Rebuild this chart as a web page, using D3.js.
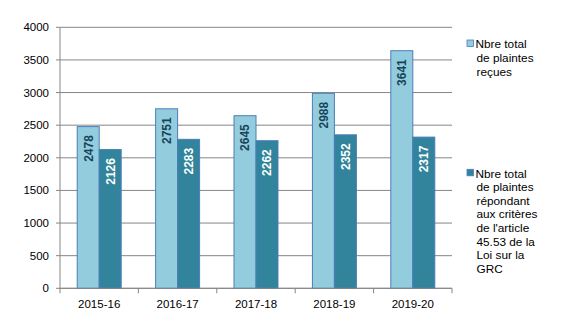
<!DOCTYPE html>
<html>
<head>
<meta charset="utf-8">
<script src="https://cdn.jsdelivr.net/npm/d3@7"></script>
<style>
  html, body { margin: 0; padding: 0; background: #fff; }
  svg { display: block; font-family: "Liberation Sans", Arial, sans-serif; }
</style>
</head>
<body>
<svg id="chart" width="561" height="323"></svg>
<script>
// Fiscal years
const years = ["2015-16", "2016-17", "2017-18", "2018-19", "2019-20"];
// Total complaints received
const received = [2478, 2751, 2645, 2988, 3641];
// Complaints meeting the criteria of section 45.53 of the RCMP Act
const eligible = [2126, 2283, 2262, 2352, 2317];
// Y axis ticks
const yTicks = [0, 500, 1000, 1500, 2000, 2500, 3000, 3500, 4000];

const seriesNames = [
  ["Nbre total", "de plaintes", "reçues"],
  ["Nbre total", "de plaintes", "répondant", "aux critères", "de l'article", "45.53 de la", "Loi sur la", "GRC"]
];
const fills = ["#93CDDD", "#31849B"];
const labelColors = ["#17445A", "#FFFFFF"];

const svg = d3.select("#chart");
const plotLeft = 60, plotRight = 452, plotTop = 27.3, plotBottom = 288.3;

const y = d3.scaleLinear().domain([0, 4000]).range([plotBottom, plotTop]);
const x = d3.scaleBand().domain(years).range([plotLeft, plotRight])
  .paddingInner(0.439).paddingOuter(0.2195);
const xs = d3.scaleBand().domain([0, 1]).range([0, x.bandwidth()]);

// Gridlines
svg.append("g").selectAll("line").data(yTicks).join("line")
  .attr("x1", plotLeft - 4).attr("x2", plotRight)
  .attr("y1", d => y(d)).attr("y2", d => y(d))
  .attr("stroke", "#868686").attr("stroke-width", 1);

// Y axis line
svg.append("line").attr("x1", plotLeft).attr("x2", plotLeft)
  .attr("y1", y(4000)).attr("y2", y(0))
  .attr("stroke", "#868686");

// Y tick labels
svg.append("g").selectAll("text").data(yTicks).join("text")
  .attr("x", 49).attr("y", d => y(d)).attr("dy", "0.35em")
  .attr("text-anchor", "end").attr("font-size", 11.5).attr("fill", "#000")
  .text(d => d);

// Category boundary ticks on x axis
const step = x.step();
const bounds = d3.range(years.length + 1).map(i => plotLeft + i * step);
svg.append("g").selectAll("line").data(bounds).join("line")
  .attr("x1", d => d).attr("x2", d => d)
  .attr("y1", y(0)).attr("y2", y(0) + 5)
  .attr("stroke", "#868686");

// X labels
svg.append("g").selectAll("text").data(years).join("text")
  .attr("x", d => x(d) + x.bandwidth() / 2).attr("y", 308)
  .attr("text-anchor", "middle").attr("font-size", 11.5).attr("fill", "#000")
  .text(d => d);

// Bars
const series = [received, eligible];
series.forEach((vals, s) => {
  const g = svg.append("g");
  g.selectAll("rect").data(vals).join("rect")
    .attr("x", (d, i) => x(years[i]) + xs(s))
    .attr("y", d => y(d))
    .attr("width", xs.bandwidth())
    .attr("height", d => y(0) - y(d))
    .attr("fill", fills[s])
    .attr("stroke", "#4A7EBB").attr("stroke-width", 1);

  g.selectAll("text").data(vals).join("text")
    .attr("transform", (d, i) => {
      const cx = x(years[i]) + xs(s) + xs.bandwidth() / 2;
      return `translate(${cx},${y(d) + 8.5}) rotate(-90)`;
    })
    .attr("text-anchor", "end").attr("dy", "0.36em")
    .attr("font-size", 12).attr("font-weight", "bold")
    .attr("fill", labelColors[s])
    .text(d => d);
});

// X axis baseline
svg.append("line").attr("x1", plotLeft).attr("x2", plotRight)
  .attr("y1", y(0)).attr("y2", y(0)).attr("stroke", "#868686");

// Legend
const legendTops = [40, 169.3];
seriesNames.forEach((lines, s) => {
  const g = svg.append("g");
  g.append("rect").attr("x", 467).attr("y", legendTops[s])
    .attr("width", 6.5).attr("height", 6.5)
    .attr("fill", fills[s]).attr("stroke", "#4A7EBB").attr("stroke-width", 0.8);
  g.selectAll("text").data(lines).join("text")
    .attr("x", (d, i) => i === 0 ? 475.5 : 476.5)
    .attr("y", (d, i) => legendTops[s] + 8.3 + i * 13.6)
    .attr("font-size", 11.8).attr("fill", "#000")
    .text(d => d);
});
</script>
</body>
</html>
